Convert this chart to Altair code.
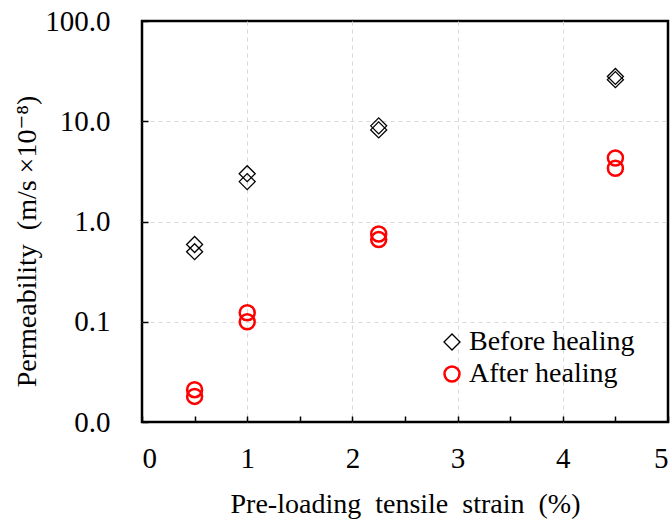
import altair as alt
import pandas as pd

strain_before = [0.5, 0.5, 1.0, 1.0, 2.25, 2.25, 4.5, 4.5]
perm_before = [0.59, 0.50, 3.0, 2.5, 9.0, 8.2, 28.0, 26.0]
strain_after = [0.5, 0.5, 1.0, 1.0, 2.25, 2.25, 4.5, 4.5]
perm_after = [0.021, 0.018, 0.123, 0.100, 0.75, 0.66, 4.3, 3.4]
series = ["Before healing", "After healing"]
x_ticks = [0, 0.5, 1, 1.5, 2, 2.5, 3, 3.5, 4, 4.5, 5]
y_ticks = [0.01, 0.1, 1, 10, 100]

df = pd.concat([
    pd.DataFrame({"strain": strain_before, "perm": perm_before, "series": series[0]}),
    pd.DataFrame({"strain": strain_after, "perm": perm_after, "series": series[1]}),
])

FONT = "'Liberation Serif', 'Times New Roman', 'DejaVu Serif', serif"

chart = alt.Chart(df).mark_point(filled=False, opacity=1).encode(
    x=alt.X("strain:Q",
            scale=alt.Scale(domain=[0, 5], nice=False, zero=False),
            axis=alt.Axis(values=x_ticks,
                          labelExpr="datum.value % 1 == 0 ? format(datum.value, 'd') : ''",
                          title="Pre-loading\u00a0 tensile\u00a0 strain\u00a0 (%)",
                          domain=False, offset=-6, tickSize=6, tickColor="black",
                          tickWidth=1.5,
                          labelPadding=22, titlePadding=17,
                          grid=True, gridDash=[4, 4], gridColor="#d9d9d9",
                          gridOpacity={"condition": {"test": "datum.value % 1 === 0 && datum.value > 0 && datum.value < 5", "value": 1}, "value": 0},
                          labelFontSize=29, titleFontSize=28,
                          labelFont=FONT, titleFont=FONT,
                          labelColor="black", titleColor="black",
                          titleFontWeight="normal")),
    y=alt.Y("perm:Q",
            scale=alt.Scale(type="log", domain=[0.01, 100], nice=False),
            axis=alt.Axis(values=y_ticks, format=".1f",
                          title="Permeability\u00a0\u00a0(m/s\u00a0×10⁻⁸)",
                          domain=False, offset=-6, tickSize=6, tickColor="black",
                          tickWidth=1.5,
                          labelPadding=32, titlePadding=3, titleY=220,
                          grid=True, gridDash=[4, 4], gridColor="#d9d9d9",
                          gridOpacity={"condition": {"test": "datum.value > 0.011 && datum.value < 99", "value": 1}, "value": 0},
                          labelFontSize=29, titleFontSize=28,
                          labelFont=FONT, titleFont=FONT,
                          labelColor="black", titleColor="black",
                          titleFontWeight="normal")),
    color=alt.Color("series:N", scale=alt.Scale(domain=series, range=["black", "red"]),
                    legend=alt.Legend(title=None, orient="none", legendX=296, legendY=307,
                                      labelFont=FONT, labelFontSize=28, labelColor="black",
                                      labelLimit=400,
                                      labelOffset=3, rowPadding=4, padding=0,
                                      symbolSize=240)),
    shape=alt.Shape("series:N", scale=alt.Scale(domain=series, range=["diamond", "circle"])),
    strokeWidth=alt.StrokeWidth("series:N", scale=alt.Scale(domain=series, range=[1.3, 2.5])),
    size=alt.Size("series:N", scale=alt.Scale(domain=series, range=[256, 225]), legend=None),
).properties(
    width=526, height=401,
    padding={"left": 142, "top": 21, "right": 2, "bottom": 99},
    autosize=alt.AutoSizeParams(type="none"),
).configure_view(stroke="black", strokeWidth=2.5)

chart.save("out.html", embed_options={"renderer": "svg", "actions": False})
